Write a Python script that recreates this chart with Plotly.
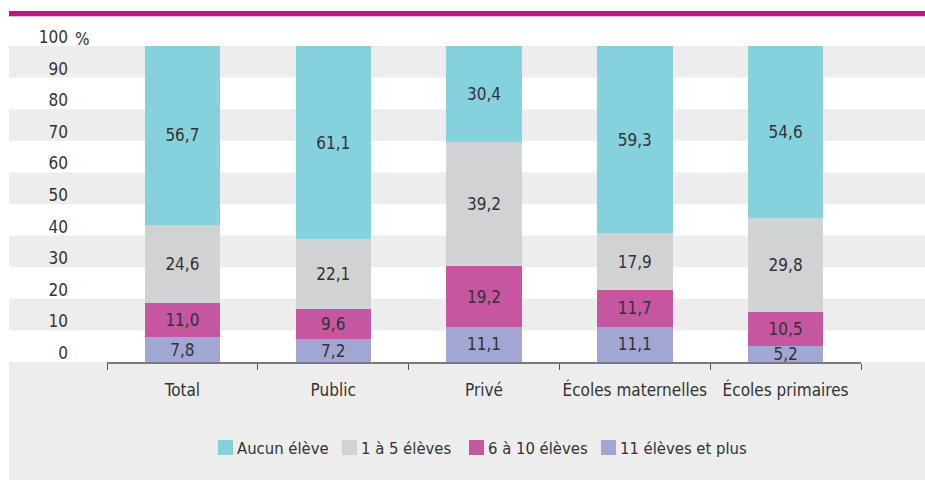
import plotly.graph_objects as go

categories = ["Total", "Public", "Privé", "Écoles maternelles", "Écoles primaires"]
series_names = ["Aucun élève", "1 à 5 élèves", "6 à 10 élèves", "11 élèves et plus"]
v_11plus = [7.8, 7.2, 11.1, 11.1, 5.2]
v_6a10 = [11.0, 9.6, 19.2, 11.7, 10.5]
v_1a5 = [24.6, 22.1, 39.2, 17.9, 29.8]
v_aucun = [56.7, 61.1, 30.4, 59.3, 54.6]
y_tickvals = [0, 10, 20, 30, 40, 50, 60, 70, 80, 90, 100]
y_ticktext = ["0", "10", "20", "30", "40", "50", "60", "70", "80", "90", "100"]

colors = {
    "Aucun élève": "#85d2de",
    "1 à 5 élèves": "#d1d2d4",
    "6 à 10 élèves": "#c5569f",
    "11 élèves et plus": "#a1a6d2",
}
FONT = "DejaVu Sans Condensed"
TXT = "#333333"
FS = 17

def fnt(size=FS):
    return dict(family=FONT, size=size, color=TXT)

def fmt(v):
    return f"{v:.1f}".replace(".", ",")

fig = go.Figure()
for name, vals in [("11 élèves et plus", v_11plus), ("6 à 10 élèves", v_6a10),
                   ("1 à 5 élèves", v_1a5), ("Aucun élève", v_aucun)]:
    fig.add_trace(go.Bar(
        x=categories, y=vals, name=name,
        marker=dict(color=colors[name], line=dict(width=0)),
        text=[fmt(v) for v in vals], textposition="inside",
        insidetextanchor="middle", constraintext="none",
        textfont=fnt(),
        hoverinfo="skip", showlegend=False,
    ))

# page body margin is removed below, so figure pixels == screen pixels
OFF = 0
FW, FH = 925 - OFF, 480 - OFF
L, T = 107 - OFF, 46 - OFF
R = FW - (861 - OFF)
B = FH - (362 - OFF)
W, H = FW - L - R, FH - T - B

def px(sx):  # screen x -> paper
    return (sx - OFF - L) / W

def py(sy):  # screen y -> paper
    return (FH - B - (sy - OFF)) / H

shapes = []
for lo in [10, 30, 50, 70, 90]:
    shapes.append(dict(type="rect", xref="paper", yref="y", x0=px(9), x1=px(925),
                       y0=lo, y1=lo + 10, fillcolor="#ededed", line=dict(width=0), layer="below"))
shapes.append(dict(type="rect", xref="paper", yref="paper", x0=px(9), x1=px(925),
                   y0=py(480), y1=0, fillcolor="#ededed", line=dict(width=0), layer="below"))
shapes.append(dict(type="rect", xref="paper", yref="paper", x0=px(9), x1=px(925),
                   y0=py(16), y1=py(11), fillcolor="#b8197f", line=dict(width=0), layer="below"))
shapes.append(dict(type="rect", xref="paper", yref="paper", x0=px(9), x1=px(925),
                   y0=py(17), y1=py(16), fillcolor="#e9b9d6", line=dict(width=0), layer="below"))

annotations = [dict(text="%", xref="paper", yref="paper", x=px(73), y=py(39),
                    xanchor="left", yanchor="middle", showarrow=False, font=fnt())]

# legend (drawn manually to match compact spacing)
legend_left = [218, 342, 469, 601]
for name, lx in zip(series_names, legend_left):
    shapes.append(dict(type="rect", xref="paper", yref="paper", x0=px(lx), x1=px(lx + 15),
                       y0=py(455), y1=py(440), fillcolor=colors[name], line=dict(width=0)))
    annotations.append(dict(text=name, xref="paper", yref="paper", x=px(lx + 17), y=py(448),
                            xanchor="left", yanchor="middle", showarrow=False,
                            font=fnt(16.5)))

fig.update_layout(
    width=FW, height=FH,
    margin=dict(l=L, r=R, t=T, b=B, autoexpand=False),
    paper_bgcolor="white", plot_bgcolor="rgba(0,0,0,0)",
    barmode="stack", bargap=0.5,
    font=fnt(),
    shapes=shapes,
    annotations=annotations,
    showlegend=False,
    xaxis=dict(showgrid=False, showline=True, linecolor="#7a7a7a", linewidth=1.5,
               ticks="outside", tickson="boundaries", ticklen=6, tickcolor="#555555",
               tickwidth=1.2, ticklabelstandoff=12, tickangle=0, automargin=False,
               tickfont=fnt()),
    yaxis=dict(range=[0, 100], showgrid=False, zeroline=False, showline=False,
               tickmode="array", tickvals=y_tickvals, ticktext=y_ticktext,
               ticklabelstandoff=38, ticklabelshift=-9, automargin=False,
               tickfont=fnt()),
)

fig.write_html("out.html",
               config={"displayModeBar": False},
               post_script="document.body.style.margin='0';document.body.style.overflow='hidden';")
